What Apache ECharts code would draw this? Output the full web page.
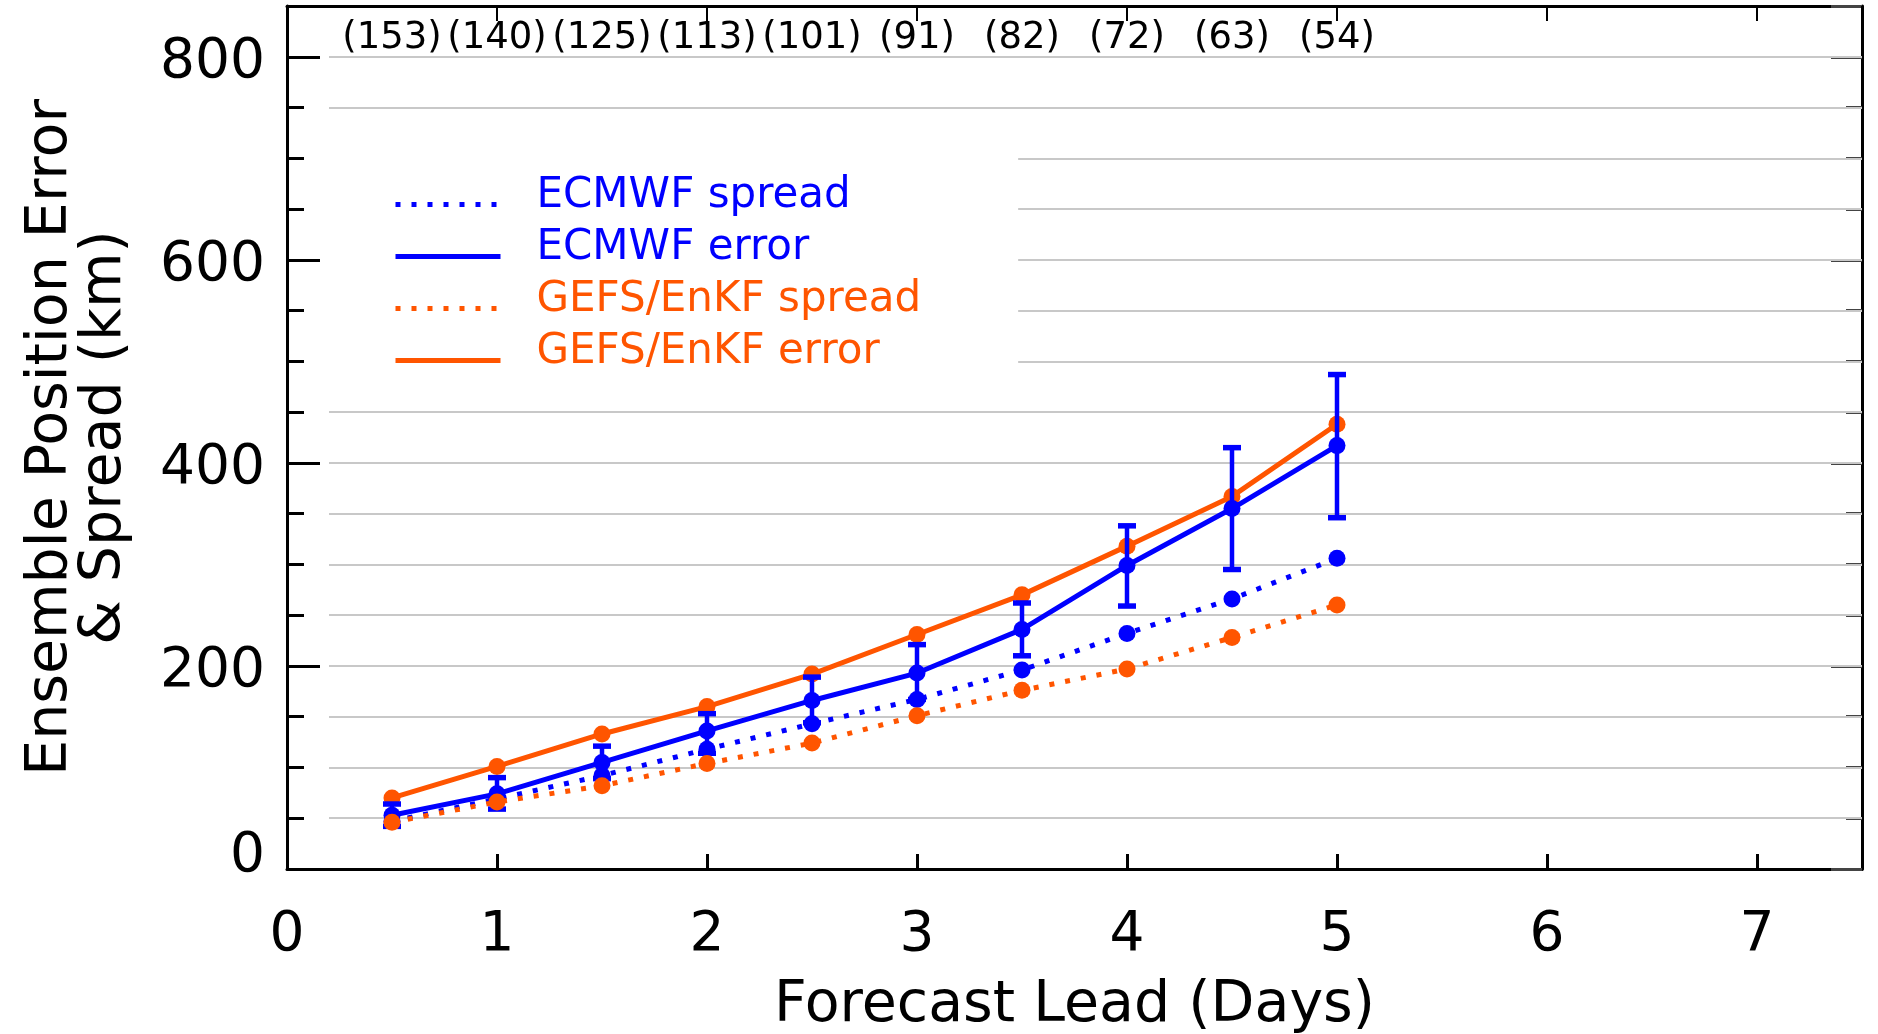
<!DOCTYPE html>
<html>
<head>
<meta charset="utf-8">
<script src="https://cdn.jsdelivr.net/npm/echarts@6/dist/echarts.min.js"></script>
<style>
  html, body { margin: 0; padding: 0; background: #fff; }
  #chart { width: 1878px; height: 1034px; }
</style>
</head>
<body>
<div id="chart"></div>
<script>
// Forecast lead times (days) and number of verifying cases at each lead
const leadDays = [0.5, 1, 1.5, 2, 2.5, 3, 3.5, 4, 4.5, 5];
const caseCounts = [153, 140, 125, 113, 101, 91, 82, 72, 63, 54];

// Ensemble position error and spread (km)
const ecmwfSpread = [47, 69, 92, 118, 143, 167, 196, 232, 266, 306];
const ecmwfError = [53, 74, 105, 136, 166, 193, 236, 299, 355, 417];
const ecmwfErrorLow = [42, 59, 89, 114, 144, 167, 210, 259, 295, 346];
const ecmwfErrorHigh = [64, 90, 121, 153, 189, 221, 262, 338, 415, 487];
const gefsSpread = [46, 66, 82, 104, 124, 151, 176, 197, 228, 260];
const gefsError = [70, 101, 133, 160, 192, 231, 270, 318, 367, 438];

// Tick labels
const xTickLabels = [0, 1, 2, 3, 4, 5, 6, 7];
const yTickLabels = [0, 200, 400, 600, 800];

const FONT = 'DejaVu Sans';
const BLUE = '#0000ff';
const ORANGE = '#ff5500';
const DOTTED = [5, 11];

const pairs = ys => leadDays.map((d, i) => [d, ys[i]]);

// horizontal guide lines every 50 km, starting a little right of the y axis
const gridLevels = [];
for (let v = 50; v <= 800; v += 50) gridLevels.push(v);

const chart = echarts.init(document.getElementById('chart'), null, { renderer: 'canvas' });

const blackLine = { show: true, onZero: false, lineStyle: { color: '#000', width: 3 } };

const option = {
  animation: false,
  backgroundColor: '#fff',
  grid: { left: 287, right: 16, top: 6, bottom: 165, containLabel: false, outerBoundsMode: 'none' },
  legend: {
    orient: 'vertical',
    left: 325,
    top: 149,
    z: 4,
    selectedMode: false,
    backgroundColor: '#fff',
    padding: [26, 97, 20, 68],
    itemWidth: 105,
    itemHeight: 20,
    itemGap: 10,
    itemStyle: { opacity: 0 },
    lineStyle: { width: 5 },
    formatter: name => '{t|' + name + '}',
    textStyle: {
      fontFamily: FONT, fontSize: 42,
      rich: { t: { fontFamily: FONT, fontSize: 42, padding: [0, 0, 17, 31] } }
    },
    data: [
      { name: 'ECMWF spread', textStyle: { color: BLUE } },
      { name: 'ECMWF error', textStyle: { color: BLUE } },
      { name: 'GEFS/EnKF spread', textStyle: { color: ORANGE } },
      { name: 'GEFS/EnKF error', textStyle: { color: ORANGE } }
    ]
  },
  xAxis: [
    {
      type: 'value', position: 'bottom', min: 0, max: 7.5, interval: 1,
      axisLine: blackLine,
      axisTick: { show: true, inside: true, length: 15, lineStyle: { color: '#000', width: 3 } },
      axisLabel: {
        show: true, margin: 39, fontFamily: FONT, fontSize: 55, color: '#000',
        showMaxLabel: false,
        formatter: v => (xTickLabels.includes(v) ? String(v) : '')
      },
      splitLine: { show: false },
      name: 'Forecast Lead (Days)',
      nameLocation: 'middle',
      nameGap: 109,
      nameTextStyle: { fontFamily: FONT, fontSize: 57, color: '#000' }
    },
    {
      type: 'value', position: 'top', min: 0, max: 7.5, interval: 1,
      axisLine: blackLine,
      axisTick: { show: true, inside: true, length: 15, lineStyle: { color: '#000', width: 2 } },
      axisLabel: { show: false },
      splitLine: { show: false }
    },
    {
      // case counts written along the top of the plot
      type: 'value', position: 'top', min: 0, max: 7.5, interval: 0.5,
      axisLine: { show: false, onZero: false },
      axisTick: { show: false },
      axisLabel: {
        show: true, inside: true, margin: 14, fontFamily: FONT, fontSize: 37, color: '#000',
        formatter: v => {
          const i = leadDays.findIndex(d => Math.abs(d - v) < 1e-9);
          return i >= 0 ? '(' + caseCounts[i] + ')' : '';
        }
      },
      splitLine: { show: false }
    }
  ],
  yAxis: [
    {
      type: 'value', position: 'left', min: 0, max: 850, interval: 50,
      axisLine: blackLine,
      axisTick: { show: true, inside: true, length: 17, lineStyle: { color: '#000', width: 3 } },
      axisLabel: {
        show: true, margin: 22, fontFamily: FONT, fontSize: 55, color: '#000',
        showMaxLabel: false,
        formatter: v => (v === 0 ? '{zero|0}' : (yTickLabels.includes(v) ? '{n|' + v + '}' : '')),
        rich: {
          zero: { fontFamily: FONT, fontSize: 55, color: '#000', padding: [0, 0, 25, 0] },
          n: { fontFamily: FONT, fontSize: 55, color: '#000', padding: [12, 0, 0, 0] }
        }
      },
      splitLine: { show: false },
      name: 'Ensemble Position Error\n& Spread (km)',
      nameLocation: 'middle',
      nameGap: 155,
      nameTextStyle: { fontFamily: FONT, fontSize: 57, lineHeight: 54, color: '#000', align: 'center' }
    },
    {
      type: 'value', position: 'left', min: 0, max: 850, interval: 200,
      axisLine: { show: false, onZero: false },
      axisTick: { show: true, inside: true, length: 33, lineStyle: { color: '#000', width: 3 } },
      axisLabel: { show: false },
      splitLine: { show: false }
    },
    {
      type: 'value', position: 'right', min: 0, max: 850, interval: 50,
      axisLine: blackLine,
      axisTick: { show: true, inside: true, length: 16, lineStyle: { color: '#444', width: 3 } },
      axisLabel: { show: false },
      splitLine: { show: false }
    },
    {
      type: 'value', position: 'right', min: 0, max: 850, interval: 200,
      axisLine: { show: false, onZero: false },
      axisTick: { show: true, inside: true, length: 31, lineStyle: { color: '#444', width: 3 } },
      axisLabel: { show: false },
      splitLine: { show: false }
    }
  ],
  series: [
    {
      name: 'guides', type: 'line', data: [], silent: true, z: 1,
      xAxisIndex: 0, yAxisIndex: 0,
      markLine: {
        z: 1,
        silent: true, symbol: ['none', 'none'], label: { show: false },
        lineStyle: { color: '#c8c8c8', width: 2, type: 'solid' },
        emphasis: { disabled: true },
        data: gridLevels.map(v => [{ coord: [0.2, v] }, { coord: [7.5, v] }])
      }
    },
    {
      name: 'GEFS/EnKF error', type: 'line', z: 3,
      data: pairs(gefsError),
      symbol: 'circle', symbolSize: 17,
      itemStyle: { color: ORANGE },
      lineStyle: { color: ORANGE, width: 5, type: 'solid' }
    },
    {
      name: 'ECMWF error', type: 'line', z: 4,
      data: pairs(ecmwfError),
      symbol: 'circle', symbolSize: 17,
      itemStyle: { color: BLUE },
      lineStyle: { color: BLUE, width: 5, type: 'solid' }
    },
    {
      name: 'ECMWF error range', type: 'custom', z: 5,
      data: leadDays.map((d, i) => [d, ecmwfErrorLow[i], ecmwfErrorHigh[i]]),
      encode: { x: 0, y: [1, 2] },
      renderItem: (params, api) => {
        const lo = api.coord([api.value(0), api.value(1)]);
        const hi = api.coord([api.value(0), api.value(2)]);
        const cap = 9;
        const bar = { stroke: BLUE, lineWidth: 4.5 };
        const capStyle = { stroke: BLUE, lineWidth: 5.5 };
        return {
          type: 'group',
          children: [
            { type: 'line', shape: { x1: lo[0], y1: lo[1], x2: hi[0], y2: hi[1] }, style: bar },
            { type: 'line', shape: { x1: hi[0] - cap, y1: hi[1], x2: hi[0] + cap, y2: hi[1] }, style: capStyle },
            { type: 'line', shape: { x1: lo[0] - cap, y1: lo[1], x2: lo[0] + cap, y2: lo[1] }, style: capStyle }
          ]
        };
      }
    },
    {
      name: 'ECMWF spread', type: 'line', z: 6,
      data: pairs(ecmwfSpread),
      symbol: 'circle', symbolSize: 17,
      itemStyle: { color: BLUE },
      lineStyle: { color: BLUE, width: 5, type: DOTTED }
    },
    {
      name: 'GEFS/EnKF spread', type: 'line', z: 7,
      data: pairs(gefsSpread),
      symbol: 'circle', symbolSize: 17,
      itemStyle: { color: ORANGE },
      lineStyle: { color: ORANGE, width: 5, type: DOTTED }
    }
  ]
};

chart.setOption(option);
</script>
</body>
</html>
